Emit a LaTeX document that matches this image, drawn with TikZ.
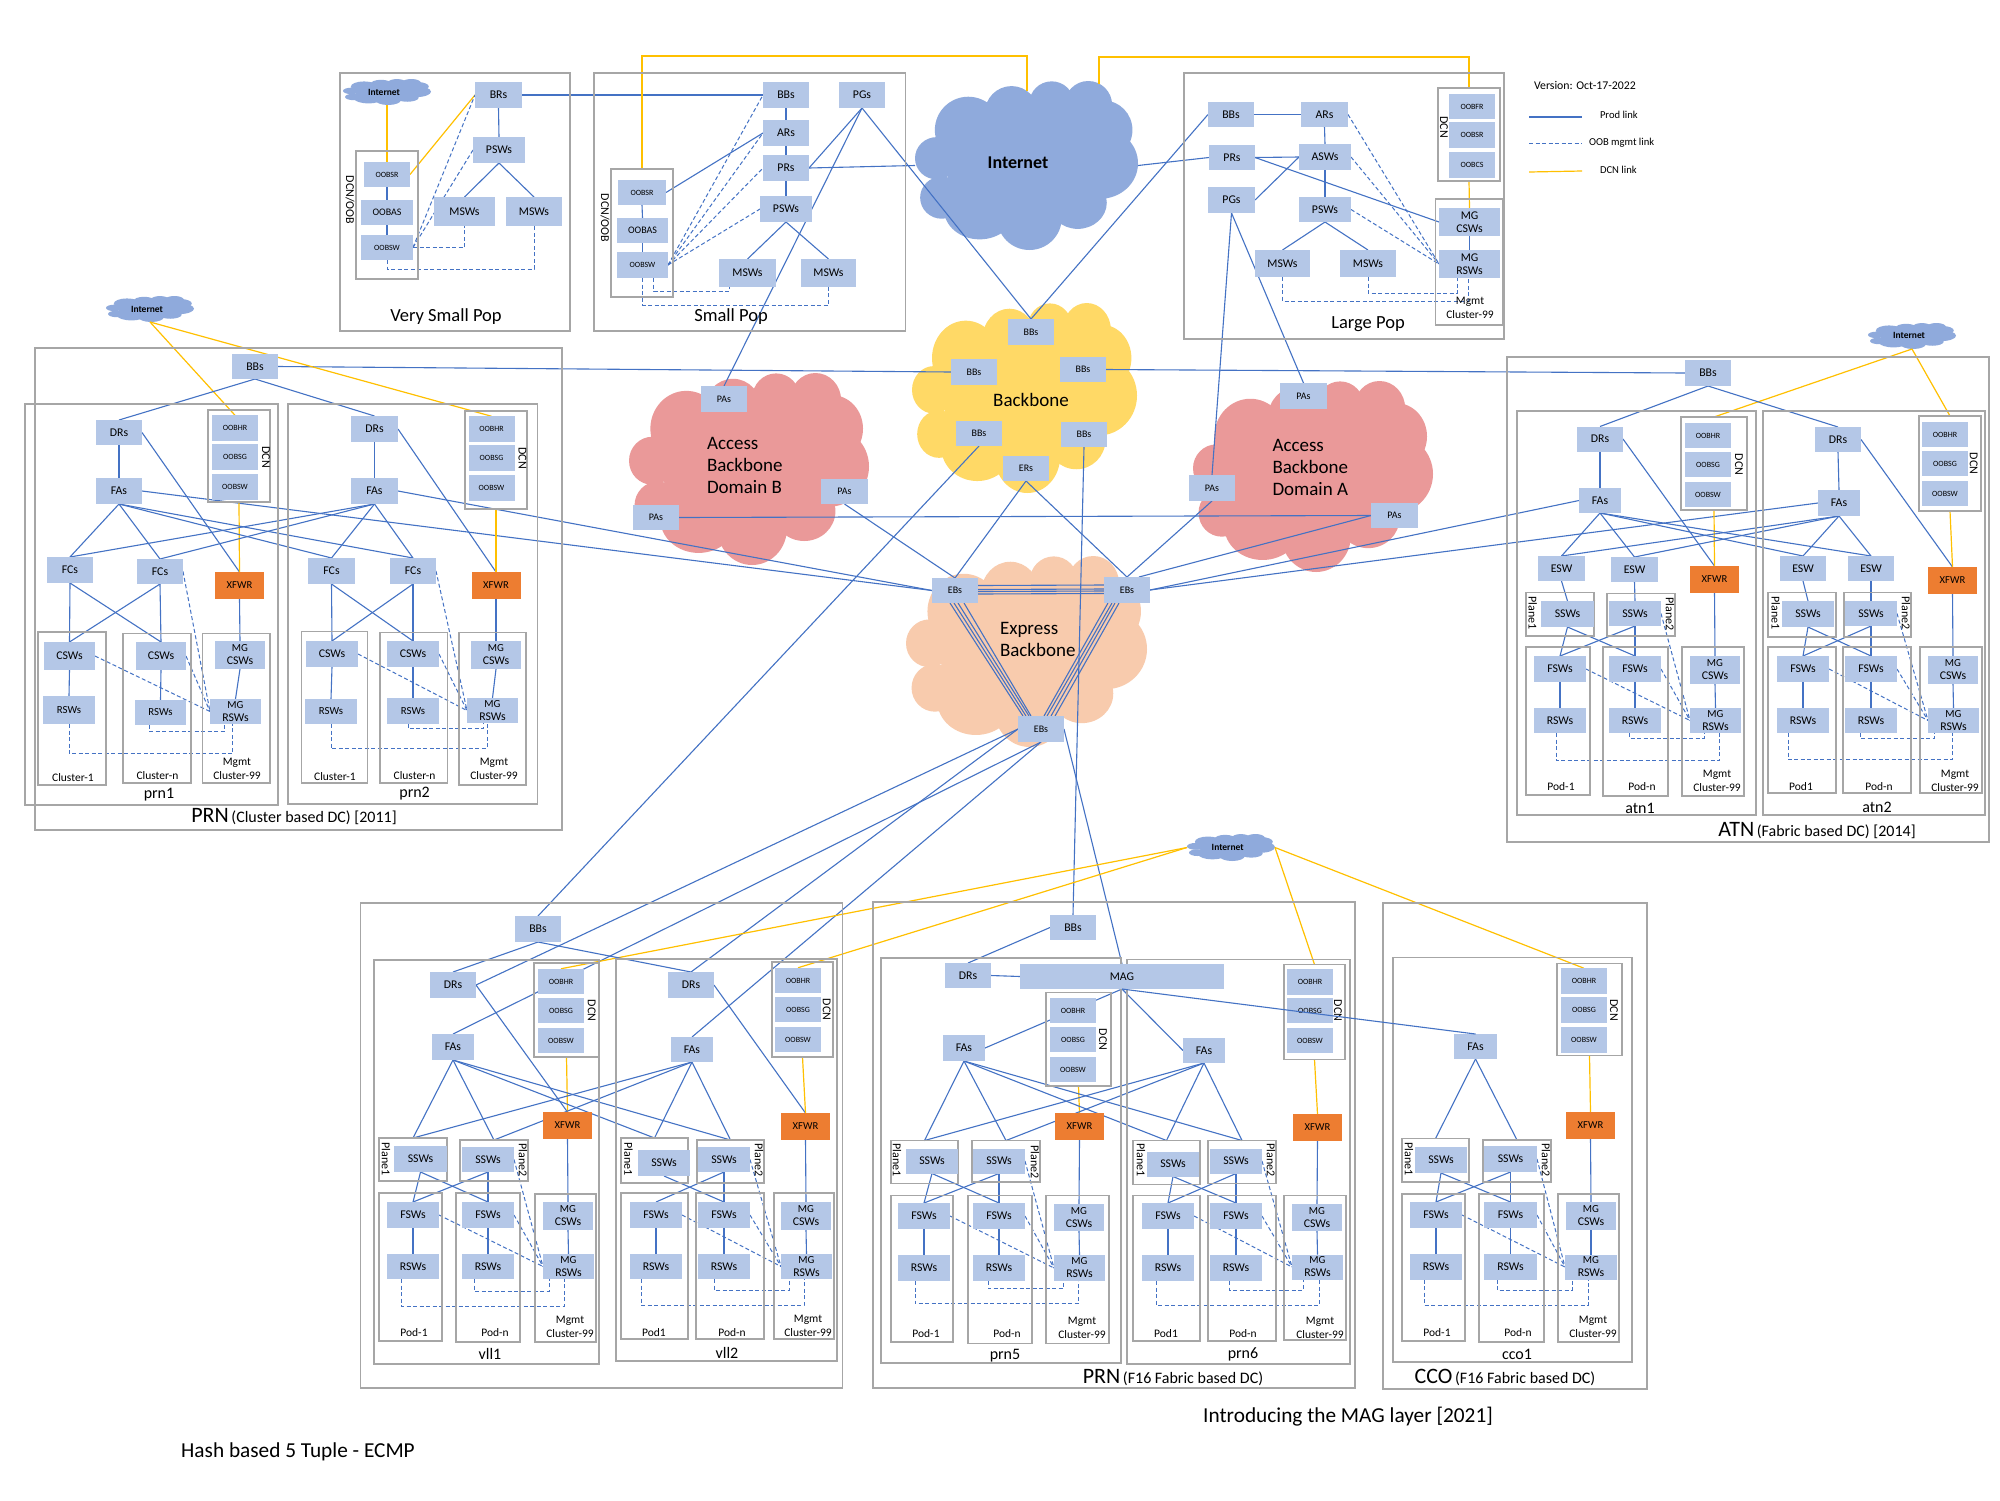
\documentclass[tikz,border=0pt]{standalone}
\usepackage{fontspec}
\setmainfont{Carlito}
\pgfdeclarelayer{under}
\pgfsetlayers{under,main}
\definecolor{bluefill}{HTML}{B4C7E7}
\definecolor{linkblue}{HTML}{4472C4}
\definecolor{dcnyellow}{HTML}{FFC000}
\definecolor{framegrey}{HTML}{A6A6A6}
\definecolor{xfwrorange}{HTML}{ED7D31}
\definecolor{inetblue}{HTML}{8FAADC}
\definecolor{bbyellow}{HTML}{FFD966}
\definecolor{abpink}{HTML}{EA9999}
\definecolor{ebpeach}{HTML}{F8CBAD}
\tikzset{
  box/.style={fill=bluefill,inner sep=0pt,outer sep=0pt,align=center,font=\fontsize{11.8}{13}\selectfont},
  oobbox/.style={box,font=\fontsize{8}{9}\selectfont},
  fwbox/.style={box,fill=xfwrorange,font=\fontsize{10.6}{12}\selectfont},
  frame/.style={draw=framegrey,line width=1.2pt,inner sep=0pt,outer sep=0pt},
  lbl/.style={inner sep=0pt,outer sep=0pt,align=center,font=\fontsize{11.5}{14}\selectfont},
  lblrot/.style={lbl,rotate=-90,font=\fontsize{12}{14}\selectfont},
  lblbig/.style={lbl,font=\fontsize{18.5}{22}\selectfont},
  lblmid/.style={lbl,font=\fontsize{16}{18}\selectfont},
  lblcloud/.style={inner sep=0pt,outer sep=0pt,align=left,anchor=west,font=\fontsize{19}{22}\selectfont},
  inetbig/.style={inner sep=0pt,outer sep=0pt,font=\fontsize{18}{20}\selectfont\bfseries},
  inetsmall/.style={inner sep=0pt,outer sep=0pt,font=\fontsize{9.5}{11}\selectfont\bfseries},
  anchorbox/.style={inner sep=0pt,outer sep=0pt},
  prod/.style={draw=linkblue,line width=1.1pt},
  oob/.style={draw=linkblue,line width=1pt,dash pattern=on 4pt off 2.5pt},
  dcn/.style={draw=dcnyellow,line width=1.2pt}
}
\newcounter{lblc}
\newcommand\bx[6]{\node[box,minimum width=#4pt,minimum height=#5pt] (#1) at (#2,#3) {#6};}
\newcommand\ob[6]{\node[oobbox,minimum width=#4pt,minimum height=#5pt] (#1) at (#2,#3) {#6};}
\newcommand\fw[3]{\node[fwbox,minimum width=49pt,minimum height=27pt] (#1) at (#2,#3) {XFWR};}
\newcommand\fr[5]{\node[frame,minimum width={#4pt-#2pt},minimum height={#5pt-#3pt}] (#1) at ({(#2+#4)/2},{(#3+#5)/2}) {};}
\newcommand\tx[4][lbl]{\stepcounter{lblc}\node[#1] (L\thelblc) at (#2,#3) {#4};}
\newcommand\vtx[3]{\stepcounter{lblc}\node[lblrot] (L\thelblc) at (#1,#2) {#3};}
\newcommand\dccap[4]{\stepcounter{lblc}\node[lbl] (L\thelblc) at (#1,#2) {{\fontsize{22}{24}\selectfont #3} {\fontsize{16}{24}\selectfont #4}};}
\newcommand\mgmtlb[2]{\tx{#1}{#2}{Mgmt\\Cluster-99}}
\newcommand\dcnset[6]{%
  \ob{#1o1}{#2}{#3}{46}{25.5}{OOBHR}\ob{#1o2}{#2}{#4}{46}{25.5}{OOBSG}\ob{#1o3}{#2}{#5}{46}{25.5}{OOBSW}%
  \vtx{#6}{#4}{DCN}}
\newcommand\pptcloud[5]{%
  \begin{scope}[shift={(#1,#2)},x=#3pt,y=-#4pt]
    \fill[#5] (.5,.5) ellipse (.36 and .36);
    \fill[#5] (.239,.29) ellipse (.15 and .197);
    \fill[#5] (.433,.19) ellipse (.12 and .16);
    \fill[#5] (.613,.132) ellipse (.10 and .13);
    \fill[#5] (.777,.142) ellipse (.107 and .142);
    \fill[#5] (.845,.29) ellipse (.13 and .175);
    \fill[#5] (.83,.487) ellipse (.17 and .21);
    \fill[#5] (.73,.72) ellipse (.13 and .155);
    \fill[#5] (.513,.81) ellipse (.145 and .19);
    \fill[#5] (.29,.76) ellipse (.16 and .177);
    \fill[#5] (.12,.69) ellipse (.097 and .125);
    \fill[#5] (.097,.457) ellipse (.097 and .125);
  \end{scope}}
\newcommand\dashlink[5]{\draw[oob] ([xshift=#3pt]#1.south) -- ++(0,#4) -| ([xshift=#5pt]#2.south);}
\newcommand\fablinks[1]{%
  \draw[dcn] (#1dcn.south) -- (#1x.north);
  \draw[prod] (#1x.south) -- (#1mc.north);
  \draw[prod] (#1mc.south) -- (#1mr.north);
  \draw[prod] (#1f1.south) -- (#1r1.north);
  \draw[prod] (#1f2.south) -- (#1r2.north);
  \draw[prod] (#1s1.south) -- (#1f2.north);
  \draw[prod] (#1s2.south) -- (#1f1.north);
  \draw[prod] (#1s2.south) -- (#1f2.north);
  \draw[oob] (#1s2.east) -- (#1mr.west);
  \draw[oob] (#1f1.east) -- (#1mr.west);
  \draw[oob] (#1f2.east) -- (#1mr.west);}
\newcommand\clusterlinks[1]{%
  \draw[prod] (#1dr.east) -- (#1x.north);
  \draw[prod] (#1dr.south) -- (#1fa.north);
  \draw[dcn] (#1dcn.south) -- (#1x.north);
  \draw[prod] (#1x.south) -- (#1mc.north);
  \draw[prod] (#1mc.south) -- (#1mr.north);
  \draw[prod] (#1fc1.south) -- (#1c1.north);
  \draw[prod] (#1fc1.south) -- (#1c2.north);
  \draw[prod] (#1fc2.south) -- (#1c1.north);
  \draw[prod] (#1fc2.south) -- (#1c2.north);
  \draw[prod] (#1c1.south) -- (#1r1.north);
  \draw[prod] (#1c2.south) -- (#1r2.north);
  \draw[oob] (#1c1.east) -- (#1mr.west);
  \draw[oob] (#1c2.east) -- (#1mr.west);
  \draw[oob] (#1fc2.east) -- (#1mr.west);}
\begin{document}
\begin{tikzpicture}[x=1pt,y=-1pt]
\useasboundingbox (0,0) rectangle (2000,1500);
\begin{pgfonlayer}{under}
\fill[white] (0,0) rectangle (2000,1500);
\pptcloud{912}{303}{225}{190}{bbyellow}
\pptcloud{629}{373}{240}{192}{abpink}
\pptcloud{1193}{381}{240}{191}{abpink}
\pptcloud{906}{556}{241}{191}{ebpeach}
\pptcloud{915}{81}{223}{169}{inetblue}
\pptcloud{343}{79}{88}{26}{inetblue}
\pptcloud{106}{296}{88}{26}{inetblue}
\pptcloud{1868}{323}{88}{26}{inetblue}
\pptcloud{1187}{834}{88}{27}{inetblue}
\end{pgfonlayer}
% Internet cloud anchors and labels
\node[anchorbox,minimum width=223pt,minimum height=169pt] (inetB) at (1026.5,165.5) {};
\node[anchorbox,minimum width=88pt,minimum height=26pt] (inetV) at (387,92) {};
\node[anchorbox,minimum width=88pt,minimum height=26pt] (inetP) at (150,309) {};
\node[anchorbox,minimum width=88pt,minimum height=26pt] (inetA) at (1912,336) {};
\node[anchorbox,minimum width=88pt,minimum height=27pt] (inetF) at (1231,847.5) {};
\tx[inetbig]{1018}{163}{Internet}
\tx[inetsmall]{384}{92}{Internet}
\tx[inetsmall]{147}{309}{Internet}
\tx[inetsmall]{1909}{335.5}{Internet}
\tx[inetsmall]{1227.7}{847.5}{Internet}
% ---------- frames ----------
\fr{vpop}{340}{73}{570}{331}
\fr{vdcn}{356}{151}{418}{279}
\fr{spop}{594}{73}{905.5}{331}
\fr{sdcn}{611}{169}{673}{297}
\fr{lpop}{1184}{73}{1504}{339}
\fr{ldcn}{1438}{88}{1500}{181}
\fr{lmg}{1435.5}{199}{1502.5}{325}
% PRN cluster
\fr{prnA}{35}{348}{562}{830}
\fr{pabox}{25}{404}{278}{805}
\fr{pbbox}{288}{404}{537.5}{804}
\fr{padcn}{208}{410}{270}{502}
\fr{pbdcn}{465}{411}{527}{509}
\fr{pacl1}{38}{632}{106}{785}
\fr{pacl2}{123}{633.5}{191}{783}
\fr{pacl3}{202.5}{633.5}{270}{783}
\fr{pbcl1}{301.5}{631.5}{367.5}{783}
\fr{pbcl2}{380}{632.5}{447.5}{783}
\fr{pbcl3}{459}{632.5}{526}{785}
% ATN
\fr{atnA}{1507}{357}{1989}{842}
\fr{aabox}{1517}{411}{1756}{815}
\fr{abbox}{1763}{411}{1985}{815}
\fr{aadcn}{1681}{417}{1747}{510}
\fr{abdcn}{1919}{416}{1981}{511}
\fr{aapl1}{1526}{592.5}{1594}{636}
\fr{aapl2}{1607}{593.5}{1675}{636}
\fr{abpl1}{1768}{592.5}{1836}{637}
\fr{abpl2}{1844}{592.5}{1911}{637}
\fr{aapd1}{1526}{647}{1590}{795}
\fr{aapd2}{1603}{647}{1668}{796}
\fr{aapd3}{1682}{647}{1744}{796}
\fr{abpd1}{1768}{647}{1836}{793}
\fr{abpd2}{1843}{647}{1911}{793}
\fr{abpd3}{1920}{647}{1982}{793}
% VLL
\fr{vllA}{360.7}{903}{842.3}{1388}
\fr{vabox}{374}{960}{599}{1364}
\fr{vbbox}{616}{959}{837}{1361}
\fr{vadcn}{534}{963}{599}{1057}
\fr{vbdcn}{772}{962}{833}{1057}
\fr{vapl1}{379}{1138}{447}{1181}
\fr{vapl2}{460}{1140}{528}{1181}
\fr{vbpl1}{621}{1138}{688}{1183}
\fr{vbpl2}{697}{1140}{764}{1183}
\fr{vapd1}{379}{1193}{442}{1341}
\fr{vapd2}{456}{1193}{520}{1342}
\fr{vapd3}{535}{1194}{596}{1342}
\fr{vbpd1}{621}{1193}{688}{1339}
\fr{vbpd2}{696}{1193}{764}{1339}
\fr{vbpd3}{774}{1193}{834}{1339}
% PRN F16
\fr{prnF}{873}{902}{1355}{1388}
\fr{fabox}{881}{958}{1121}{1363}
\fr{fbbox}{1127}{959.5}{1350}{1364}
\fr{fadcn}{1046}{992.5}{1111}{1086}
\fr{fbdcn}{1284}{964.5}{1345}{1059.5}
\fr{fapl1}{891}{1140.5}{958}{1183.5}
\fr{fapl2}{972}{1140.5}{1040}{1182}
\fr{fbpl1}{1133}{1140.5}{1200}{1184.5}
\fr{fbpl2}{1208}{1140.5}{1276}{1183.5}
\fr{fapd1}{891}{1195.5}{953}{1342}
\fr{fapd2}{968}{1195.5}{1032}{1343.5}
\fr{fapd3}{1046}{1195.5}{1109}{1343.5}
\fr{fbpd1}{1133}{1195.5}{1200}{1341}
\fr{fbpd2}{1208}{1195.5}{1276}{1341}
\fr{fbpd3}{1284}{1195.5}{1346}{1340}
% CCO
\fr{ccoA}{1383}{903}{1647}{1389}
\fr{cabox}{1393}{957.6}{1632}{1362}
\fr{cadcn}{1557}{963.5}{1622}{1055.5}
\fr{capl1}{1402}{1138.6}{1469}{1182}
\fr{capl2}{1483}{1140}{1551}{1182}
\fr{capd1}{1402}{1194}{1465}{1341}
\fr{capd2}{1479}{1194}{1544}{1342}
\fr{capd3}{1558}{1194}{1619}{1342}
% ---------- Very small pop ----------
\bx{vbr}{498.5}{95}{47}{26}{BRs}
\bx{vpsw}{499}{150}{52}{26}{PSWs}
\bx{vm1}{464.5}{211.5}{61}{29}{MSWs}
\bx{vm2}{534}{211.5}{56}{29}{MSWs}
\ob{voo1}{387}{174.5}{46}{25}{OOBSR}
\bx{voo2}{387}{212.5}{52}{25}{\fontsize{10}{12}\selectfont OOBAS}
\ob{voo3}{387}{247.5}{52}{25}{OOBSW}
\vtx{350}{200}{DCN/OOB}
\tx[lblbig]{446}{317}{Very Small Pop}
% ---------- Small pop ----------
\bx{sbb}{786}{95}{46}{26}{BBs}
\bx{spg}{862}{95}{46}{26}{PGs}
\bx{sar}{786}{133}{46}{26}{ARs}
\bx{spr}{786}{168}{46}{26}{PRs}
\bx{spsw}{786}{209}{52}{26}{PSWs}
\bx{sm1}{747.5}{273}{57}{28}{MSWs}
\bx{sm2}{828.5}{273}{55}{28}{MSWs}
\ob{soo1}{642}{192.5}{48}{25}{OOBSR}
\bx{soo2}{642.5}{230.5}{51}{25}{\fontsize{10}{12}\selectfont OOBAS}
\ob{soo3}{642.5}{265}{51}{26}{OOBSW}
\vtx{605}{218}{DCN/OOB}
\tx[lblbig]{731}{317}{Small Pop}
% ---------- Large pop ----------
\bx{lbb}{1231}{114.5}{46}{25}{BBs}
\bx{lar}{1324.5}{114.5}{47}{25}{ARs}
\bx{lpr}{1232}{157.5}{46}{25}{PRs}
\bx{lasw}{1325}{157}{52}{26}{ASWs}
\bx{lpg}{1231.5}{200}{47}{26}{PGs}
\bx{lpsw}{1325}{209.5}{52}{25}{PSWs}
\bx{lm1}{1282.5}{263.5}{55}{27}{MSWs}
\bx{lm2}{1368}{263.5}{56}{27}{MSWs}
\ob{loo1}{1472}{106.5}{46}{25}{OOBFR}
\ob{loo2}{1472}{135}{46}{26}{OOBSR}
\ob{loo3}{1472}{165}{46}{26}{OOBCS}
\vtx{1444}{127}{DCN}
\bx{lmc}{1469.5}{222}{61}{28}{MG\\CSWs}
\bx{lmr}{1469.5}{264}{61}{28}{MG\\RSWs}
\mgmtlb{1470}{308}
\tx[lblbig]{1368}{324}{Large Pop}
% ---------- Legend ----------
\tx[lbl,anchor=west]{1534}{85}{\fontsize{11.8}{14}\selectfont Version: Oct-17-2022}
\coordinate (lg1a) at (1529,117); \coordinate (lg1b) at (1582,117);
\coordinate (lg2a) at (1529,143); \coordinate (lg2b) at (1582,143);
\coordinate (lg3a) at (1529,172); \coordinate (lg3b) at (1582,171);
\tx[lbl,anchor=west]{1600}{115}{\fontsize{10.6}{12}\selectfont Prod link}
\tx[lbl,anchor=west]{1589}{143}{\fontsize{10.6}{12}\selectfont OOB mgmt link}
\tx[lbl,anchor=west]{1600}{170}{\fontsize{10.6}{12}\selectfont DCN link}
% ---------- Centre ----------
\bx{btop}{1031}{332}{46}{26}{\fontsize{10}{12}\selectfont BBs}
\bx{blf}{974}{372}{46}{26}{\fontsize{10}{12}\selectfont BBs}
\bx{brt}{1083}{369.5}{46}{25}{\fontsize{10}{12}\selectfont BBs}
\bx{bbl}{979}{433.5}{46}{25}{\fontsize{10}{12}\selectfont BBs}
\bx{bbr}{1084}{434.5}{46}{25}{\fontsize{10}{12}\selectfont BBs}
\bx{ers}{1026}{468.5}{46}{25}{\fontsize{10}{12}\selectfont ERs}
\bx{ebl}{955}{590.5}{46}{25}{\fontsize{10}{12}\selectfont EBs}
\bx{ebr}{1127}{590}{46}{26}{\fontsize{10}{12}\selectfont EBs}
\bx{ebb}{1041}{729}{46}{26}{\fontsize{10}{12}\selectfont EBs}
\bx{pbt}{724}{399}{46}{26}{\fontsize{10}{12}\selectfont PAs}
\bx{pbr}{844.5}{491.5}{47}{25}{\fontsize{10}{12}\selectfont PAs}
\bx{pbl}{656}{517.5}{46}{25}{\fontsize{10}{12}\selectfont PAs}
\bx{pat}{1303.5}{396}{47}{26}{\fontsize{10}{12}\selectfont PAs}
\bx{pal}{1212}{488}{46}{26}{\fontsize{10}{12}\selectfont PAs}
\bx{par}{1394.5}{515.5}{47}{25}{\fontsize{10}{12}\selectfont PAs}
\tx[lblcloud,anchor=center]{1031}{400}{Backbone}
\tx[lblcloud]{707}{465}{Access\\Backbone\\Domain B}
\tx[lblcloud]{1272.5}{467}{Access\\Backbone\\Domain A}
\tx[lblcloud]{1000}{639}{Express\\Backbone}
% ---------- PRN cluster ----------
\bx{pbb}{255}{366.5}{46}{25}{BBs}
\bx{padr}{119}{432.5}{46}{25}{DRs}
\bx{pafa}{119}{491}{46}{26}{FAs}
\dcnset{pa}{235}{428}{457}{487}{266}
\bx{pafc1}{70}{570}{46}{26}{FCs}
\bx{pafc2}{160}{571.5}{46}{25}{FCs}
\fw{pax}{239.5}{585.5}
\bx{pac1}{69.5}{656}{51}{28}{CSWs}
\bx{pac2}{161}{656}{50}{28}{CSWs}
\bx{pamc}{240}{655}{50}{28}{\fontsize{10.8}{13}\selectfont MG\\CSWs}
\bx{par1}{69}{710}{52}{28}{\fontsize{10.8}{13}\selectfont RSWs}
\bx{par2}{160.5}{712.5}{51}{25}{\fontsize{10.8}{13}\selectfont RSWs}
\bx{pamr}{235.5}{711.5}{51}{25}{\fontsize{10.8}{13}\selectfont MG\\RSWs}
\tx{73}{778}{Cluster-1}
\tx{157.5}{776}{Cluster-n}
\mgmtlb{237}{769}
\tx[lblmid]{159}{794.5}{prn1}
\bx{pbdr}{374.5}{429}{47}{26}{DRs}
\bx{pbfa}{374.5}{491}{47}{26}{FAs}
\dcnset{pb}{491.5}{429}{458}{488}{522.5}
\bx{pbfc1}{331.5}{571}{47}{26}{FCs}
\bx{pbfc2}{413}{571}{46}{26}{FCs}
\fw{pbx}{496}{585.5}
\bx{pbc1}{332}{654}{52}{26}{CSWs}
\bx{pbc2}{413}{654}{52}{26}{CSWs}
\bx{pbmc}{496}{655}{50}{28}{\fontsize{10.8}{13}\selectfont MG\\CSWs}
\bx{pbr1}{331}{711.5}{52}{25}{\fontsize{10.8}{13}\selectfont RSWs}
\bx{pbr2}{413}{711}{52}{26}{\fontsize{10.8}{13}\selectfont RSWs}
\bx{pbmr}{492.5}{710.5}{51}{25}{\fontsize{10.8}{13}\selectfont MG\\RSWs}
\tx{335}{777}{Cluster-1}
\tx{414.6}{776}{Cluster-n}
\mgmtlb{494}{769}
\tx[lblmid]{414.6}{793.5}{prn2}
\dccap{294}{817}{PRN}{(Cluster based DC) [2011]}
% ---------- ATN ----------
\bx{abb}{1708}{373}{46}{26}{BBs}
\bx{aadr}{1600}{439}{46}{25}{DRs}
\bx{aafa}{1600}{500.5}{42}{25}{FAs}
\dcnset{aa}{1708}{435.5}{464.5}{494.5}{1739}
\bx{aae1}{1561.5}{568.5}{47}{25}{ESW}
\bx{aae2}{1634.5}{569.5}{47}{25}{ESW}
\fw{aax}{1714.5}{579.5}
\bx{aas1}{1567.5}{614}{53}{26}{SSWs}
\bx{aas2}{1635}{613.5}{52}{25}{SSWs}
\vtx{1532.7}{613}{Plane1}
\vtx{1670}{614}{Plane2}
\bx{aaf1}{1560}{669}{52}{26}{FSWs}
\bx{aaf2}{1635}{669}{52}{26}{FSWs}
\bx{aamc}{1715}{670}{50}{28}{\fontsize{10.8}{13}\selectfont MG\\CSWs}
\bx{aar1}{1560}{720.5}{52}{25}{RSWs}
\bx{aar2}{1635}{720.5}{52}{25}{RSWs}
\bx{aamr}{1715.5}{720.5}{51}{25}{\fontsize{10.8}{13}\selectfont MG\\RSWs}
\tx{1561}{787}{Pod-1}
\tx{1642}{787}{Pod-n}
\mgmtlb{1717}{781}
\tx[lblmid]{1640}{808}{atn1}
\bx{abdr}{1838}{439.5}{46}{25}{DRs}
\bx{abfa}{1839}{503}{42}{26}{FAs}
\dcnset{ab}{1945}{434.5}{463.5}{493.5}{1973.7}
\bx{abe1}{1803}{568.5}{46}{25}{ESW}
\bx{abe2}{1871}{568.5}{46}{25}{ESW}
\fw{abx}{1952.5}{580.5}
\bx{abs1}{1808}{614}{52}{26}{SSWs}
\bx{abs2}{1871}{613.5}{52}{25}{SSWs}
\vtx{1775.7}{613}{Plane1}
\vtx{1906}{613}{Plane2}
\bx{abf1}{1803}{669}{52}{26}{FSWs}
\bx{abf2}{1871}{669}{52}{26}{FSWs}
\bx{abmc}{1953}{670}{50}{28}{\fontsize{10.8}{13}\selectfont MG\\CSWs}
\bx{abr1}{1803}{720.5}{52}{25}{RSWs}
\bx{abr2}{1871}{720.5}{52}{25}{RSWs}
\bx{abmr}{1953.5}{720.5}{51}{25}{\fontsize{10.8}{13}\selectfont MG\\RSWs}
\tx{1801}{787}{Pod1}
\tx{1879}{787}{Pod-n}
\mgmtlb{1955}{781}
\tx[lblmid]{1877}{807}{atn2}
\dccap{1817}{831}{ATN}{(Fabric based DC) [2014]}
% ---------- VLL ----------
\bx{vbb}{538}{929}{46}{26}{BBs}
\bx{vadr}{453}{985}{46}{26}{DRs}
\bx{vafa}{453}{1047}{42}{26}{FAs}
\dcnset{va}{561}{981.5}{1010.5}{1040.5}{591.7}
\fw{vax}{567.5}{1125.5}
\bx{vas1}{420.5}{1159}{53}{26}{SSWs}
\bx{vas2}{488}{1159.5}{52}{25}{SSWs}
\vtx{386}{1159}{Plane1}
\vtx{523}{1160}{Plane2}
\bx{vaf1}{413}{1215}{52}{26}{FSWs}
\bx{vaf2}{488}{1215}{52}{26}{FSWs}
\bx{vamc}{568}{1216}{50}{28}{\fontsize{10.8}{13}\selectfont MG\\CSWs}
\bx{var1}{413}{1266.5}{52}{25}{RSWs}
\bx{var2}{488}{1266.5}{52}{25}{RSWs}
\bx{vamr}{568.5}{1266.5}{51}{25}{\fontsize{10.8}{13}\selectfont MG\\RSWs}
\tx{414}{1332.7}{Pod-1}
\tx{495}{1332.7}{Pod-n}
\mgmtlb{570}{1326.5}
\tx[lblmid]{490}{1354}{vll1}
\bx{vbdr}{691}{985}{46}{26}{DRs}
\bx{vbfa}{692}{1049.5}{42}{25}{FAs}
\dcnset{vb}{798}{980.5}{1009.5}{1039.5}{826.7}
\fw{vbx}{805.5}{1126.5}
\bx{vbs1}{664}{1163}{52}{26}{SSWs}
\bx{vbs2}{724}{1159.5}{52}{25}{SSWs}
\vtx{628.5}{1159}{Plane1}
\vtx{759}{1160}{Plane2}
\bx{vbf1}{656}{1215}{52}{26}{FSWs}
\bx{vbf2}{724}{1215}{52}{26}{FSWs}
\bx{vbmc}{806}{1216}{50}{28}{\fontsize{10.8}{13}\selectfont MG\\CSWs}
\bx{vbr1}{656}{1266.5}{52}{25}{RSWs}
\bx{vbr2}{724}{1266.5}{52}{25}{RSWs}
\bx{vbmr}{806.5}{1266.5}{51}{25}{\fontsize{10.8}{13}\selectfont MG\\RSWs}
\tx{654}{1332.7}{Pod1}
\tx{732}{1332.7}{Pod-n}
\mgmtlb{808}{1326}
\tx[lblmid]{727}{1353}{vll2}
% ---------- PRN F16 ----------
\bx{fbb}{1073}{927.5}{46}{25}{BBs}
\bx{fadr}{968}{975.5}{46}{25}{DRs}
\bx{mag}{1122}{976.5}{204}{25}{MAG}
\dcnset{fa}{1073}{1010.5}{1039.5}{1069.5}{1103}
\bx{fafa}{964}{1048}{42}{26}{FAs}
\fw{fax}{1079.5}{1126.5}
\bx{fas1}{932}{1161}{52}{25}{SSWs}
\bx{fas2}{999}{1161}{52}{25}{SSWs}
\vtx{897}{1160}{Plane1}
\vtx{1035}{1162}{Plane2}
\bx{faf1}{924}{1216}{52}{26}{FSWs}
\bx{faf2}{999}{1216}{52}{26}{FSWs}
\bx{famc}{1079}{1217.5}{50}{27}{\fontsize{10.8}{13}\selectfont MG\\CSWs}
\bx{far1}{924}{1268}{52}{26}{RSWs}
\bx{far2}{999}{1268}{52}{26}{RSWs}
\bx{famr}{1079.5}{1268}{51}{26}{\fontsize{10.8}{13}\selectfont MG\\RSWs}
\tx{926}{1334}{Pod-1}
\tx{1007}{1334}{Pod-n}
\mgmtlb{1082}{1328}
\tx[lblmid]{1005}{1356}{prn5}
\bx{fbfa}{1204}{1050.5}{42}{25}{FAs}
\dcnset{fb}{1310}{982}{1010.5}{1040.5}{1338}
\fw{fbx}{1317.5}{1127.5}
\bx{fbs1}{1173}{1164}{52}{25}{SSWs}
\bx{fbs2}{1236}{1161}{52}{25}{SSWs}
\vtx{1141}{1160}{Plane1}
\vtx{1271}{1160}{Plane2}
\bx{fbf1}{1168}{1216}{52}{26}{FSWs}
\bx{fbf2}{1236}{1216}{52}{26}{FSWs}
\bx{fbmc}{1317}{1217.5}{50}{27}{\fontsize{10.8}{13}\selectfont MG\\CSWs}
\bx{fbr1}{1168}{1268}{52}{26}{RSWs}
\bx{fbr2}{1236}{1268}{52}{26}{RSWs}
\bx{fbmr}{1317.5}{1267}{51}{25}{\fontsize{10.8}{13}\selectfont MG\\RSWs}
\tx{1166}{1334}{Pod1}
\tx{1243}{1334}{Pod-n}
\mgmtlb{1320}{1328}
\tx[lblmid]{1243}{1354}{prn6}
\dccap{1173}{1378}{PRN}{(F16 Fabric based DC)}
% ---------- CCO ----------
\bx{cafa}{1475.5}{1046.5}{43}{25}{FAs}
\dcnset{ca}{1584}{981}{1010}{1040}{1614}
\fw{cax}{1590.5}{1125.5}
\bx{cas1}{1441}{1160}{52}{26}{SSWs}
\bx{cas2}{1510.5}{1159}{53}{26}{SSWs}
\vtx{1409}{1159}{Plane1}
\vtx{1546}{1160}{Plane2}
\bx{caf1}{1436}{1215}{52}{26}{FSWs}
\bx{caf2}{1510.5}{1215}{53}{26}{FSWs}
\bx{camc}{1591}{1216}{50}{28}{\fontsize{10.8}{13}\selectfont MG\\CSWs}
\bx{car1}{1436}{1266.5}{52}{26}{RSWs}
\bx{car2}{1510.5}{1266.5}{53}{26}{RSWs}
\bx{camr}{1591}{1267}{52}{25}{\fontsize{10.8}{13}\selectfont MG\\RSWs}
\tx{1437}{1333}{Pod-1}
\tx{1518}{1333}{Pod-n}
\mgmtlb{1593}{1327}
\tx[lblmid]{1517}{1354.5}{cco1}
\dccap{1505}{1377}{CCO}{(F16 Fabric based DC)}
\tx[lblbig]{1348}{1417}{\fontsize{21.3}{24}\selectfont Introducing the MAG layer [2021]}
\tx[lblbig]{298}{1452}{\fontsize{21.3}{24}\selectfont Hash based 5 Tuple - ECMP}
% ---------- Links on top ----------
\draw[prod] (mag.south) -- (cafa.north);
% ---------- Links below boxes ----------
\begin{pgfonlayer}{under}
\draw[prod] (lg1a) -- (lg1b);
\draw[oob] (lg2a) -- (lg2b);
\draw[dcn] (lg3a) -- (lg3b);
% very small pop
\draw[dcn] (inetV.south) -- (voo1.north);
\draw[dcn] (voo1.east) -- (vbr.west);
\draw[prod] (voo1.south) -- (voo2.north);
\draw[prod] (voo2.south) -- (voo3.north);
\draw[prod] (vbr.south) -- (vpsw.north);
\draw[prod] (vpsw.south) -- (vm1.north);
\draw[prod] (vpsw.south) -- (vm2.north);
\draw[prod] (vbr.east) -- (sbb.west);
\draw[oob] (voo3.east) -- (vbr.west);
\draw[oob] (voo3.east) -- (vpsw.west);
\draw[oob] (voo3.east) -| (vm1.south);
\dashlink{voo3}{vm2}{0}{9}{0}
% small pop
\coordinate (ytop) at (1027,56);
\coordinate (ycloudL) at (1027,91);
\draw[dcn] (sdcn.north) |- (ytop) -- (ycloudL);
\draw[prod] (soo1.east) -- (sar.west);
\draw[prod] (soo1.south) -- (soo2.north);
\draw[prod] (soo2.south) -- (soo3.north);
\draw[prod] (sbb.south) -- (sar.north);
\draw[prod] (sar.south) -- (spr.north);
\draw[prod] (spr.south) -- (spsw.north);
\draw[prod] (spsw.south) -- (sm1.north);
\draw[prod] (spsw.south) -- (sm2.north);
\draw[prod] (spg.south) -- (spr.east);
\draw[prod] (spg.south) -- (btop.north);
\draw[prod] (spg.south) -- (pbt.north);
\draw[prod] (spr.east) -- (inetB.west);
\draw[oob] (soo3.east) -- (sbb.west);
\draw[oob] (soo3.east) -- (sar.west);
\draw[oob] (soo3.east) -- (spr.west);
\draw[oob] (soo3.east) -- (spsw.west);
\dashlink{soo3}{sm1}{11}{13}{-18}
\dashlink{soo3}{sm2}{0}{27}{0}
% large pop
\coordinate (ycloudR) at (1099,84);
\coordinate (ytopr) at (1469,57);
\draw[dcn] (ycloudR) |- (ytopr) -- (ldcn.north);
\draw[dcn] (ldcn.south) -- (lmc.north);
\draw[prod] (lbb.east) -- (lar.west);
\draw[prod] (lar.south) -- (lasw.north);
\draw[prod] (lasw.south) -- (lpsw.north);
\draw[prod] (lpsw.south) -- (lm1.north);
\draw[prod] (lpsw.south) -- (lm2.north);
\draw[prod] (lpr.east) -- (lasw.west);
\draw[prod] (lpr.east) -- (lmc.west);
\draw[prod] (lpg.east) -- (lasw.west);
\draw[prod] (lmc.south) -- (lmr.north);
\draw[prod] (lbb.west) -- (btop.north);
\draw[prod] (lpr.west) -- (inetB.east);
\draw[prod] (lpg.south) -- (pat.north);
\draw[prod] (lpg.south) -- (pal.north);
\draw[oob] (lar.east) -- (lmr.west);
\draw[oob] (lasw.east) -- (lmr.west);
\draw[oob] (lpsw.east) -- (lmr.west);
\dashlink{lm1}{lmr}{0}{24}{-1.5}
\dashlink{lm2}{lmr}{0}{16}{-12.5}
% centre
\draw[prod] (blf.west) -- (pbb.east);
\draw[prod] (brt.east) -- (abb.west);
\draw[prod] (bbl.south) -- (vbb.north);
\draw[prod] (bbr.south) -- (fbb.north);
\draw[prod] (ers.south) -- (ebl.north);
\draw[prod] (ers.south) -- (ebr.north);
\draw[prod] (pbr.south) -- (ebl.north);
\draw[prod] (pbl.east) -- (par.west);
\draw[prod] (pal.south) -- (ebr.north);
\draw[prod] (par.west) -- ([xshift=12pt]ebr.north);
\foreach \s in {5,1,-1,-3.5}{\draw[prod] ([yshift=\s pt]ebl.east) -- ([yshift=\s pt]ebr.west);}
\draw[prod] ([xshift=-5pt]ebl.south) -- ([xshift=-18pt]ebb.north);
\draw[prod] ([xshift=-1pt]ebl.south) -- ([xshift=-15pt]ebb.north);
\draw[prod] ([xshift=3pt]ebl.south) -- ([xshift=-12pt]ebb.north);
\draw[prod] ([xshift=9pt]ebl.south) -- ([xshift=-10pt]ebb.north);
\draw[prod] ([xshift=-19pt]ebr.south) -- ([xshift=3pt]ebb.north);
\draw[prod] ([xshift=-15pt]ebr.south) -- ([xshift=6pt]ebb.north);
\draw[prod] ([xshift=-12pt]ebr.south) -- ([xshift=10pt]ebb.north);
\draw[prod] ([xshift=-8pt]ebr.south) -- ([xshift=14pt]ebb.north);
\draw[prod] (ebl.west) -- (pafa.east);
\draw[prod] (ebl.west) -- (pbfa.east);
\draw[prod] (ebr.east) -- (aafa.west);
\draw[prod] (ebr.east) -- (abfa.west);
\draw[prod] (ebb.west) -- (vadr.east);
\draw[prod] (ebb.west) -- (vbdr.north);
\draw[prod] (ebb.south) -- (vafa.north);
\draw[prod] (ebb.south) -- (vbfa.north);
\draw[prod] (ebb.east) -- (mag.north);
% PRN cluster
\draw[dcn] (inetP.south) -- (pao1.north);
\draw[dcn] (inetP.south) -- (pbo1.north);
\draw[prod] (pbb.south) -- (padr.north);
\draw[prod] (pbb.south) -- (pbdr.north);
\clusterlinks{pa}
\clusterlinks{pb}
\foreach \t in {pafc1,pafc2,pbfc1,pbfc2}{
  \draw[prod] (pafa.south) -- (\t.north);
  \draw[prod] (pbfa.south) -- (\t.north);}
\dashlink{par2}{pamr}{-11.5}{6.4}{-11}
\dashlink{par1}{pamr}{0}{29.5}{-3}
\dashlink{pbr2}{pbmr}{-5}{4.6}{-9}
\dashlink{pbr1}{pbmr}{0}{24.6}{-5.5}
% ATN
\draw[dcn] (inetA.south) -- (aadcn.north);
\draw[dcn] (inetA.south) -- (abdcn.north);
\draw[prod] (abb.south) -- (aadr.north);
\draw[prod] (abb.south) -- (abdr.north);
\foreach \p in {aa,ab}{
  \draw[prod] (\p dr.south) -- (\p fa.north);
  \draw[prod] (\p dr.east) -- (\p x.north);
  \draw[prod] (\p e1.south) -- (\p s1.north);
  \draw[prod] (\p e2.south) -- (\p s2.north);
  \draw[prod] (\p s1.south) -- (\p f1.north);
  \fablinks{\p}}
\foreach \t in {aae1,aae2,abe1,abe2}{
  \draw[prod] (aafa.south) -- (\t.north);
  \draw[prod] (abfa.south) -- (\t.north);}
\dashlink{aar2}{aamr}{-6}{5}{-11.5}
\dashlink{aar1}{aamr}{-4}{27.5}{3.5}
\dashlink{abr2}{abmr}{-11}{5.5}{-19.5}
\dashlink{abr1}{abmr}{-15}{26.5}{-1.5}
% VLL
\draw[dcn] (inetF.west) -- (vao1.north);
\draw[dcn] (inetF.west) -- (vbo1.north);
\draw[prod] (vbb.south) -- (vadr.north);
\draw[prod] (vbb.south) -- (vbdr.north);
\draw[prod] (vadr.east) -- (vax.north);
\draw[prod] (vbdr.east) -- (vbx.north);
\draw[prod] (vas1.south) -- (vaf1.north);
\fablinks{va}
\fablinks{vb}
\foreach \t in {vapl1,vapl2,vbpl1,vbpl2}{
  \draw[prod] (vafa.south) -- (\t.north);
  \draw[prod] (vbfa.south) -- (\t.north);}
\dashlink{var2}{vamr}{-14}{12}{-19.5}
\dashlink{var1}{vamr}{-12}{27}{-4.5}
\dashlink{vbr2}{vbmr}{-10}{11}{-17.5}
\dashlink{vbr1}{vbmr}{-15}{26}{-2.5}
% PRN F16
\draw[dcn] (inetF.east) -- (fbdcn.north);
\draw[prod] (fbb.west) -- (fadr.north);
\draw[prod] (fadr.east) -- (mag.west);
\draw[prod] (mag.south) -- (fafa.east);
\draw[prod] (mag.south) -- (fbfa.west);
\draw[prod] (fas1.south) -- (faf1.north);
\draw[prod] (fbs1.south) -- (fbf1.north);
\fablinks{fa}
\fablinks{fb}
\foreach \t in {fapl1,fapl2,fbpl1,fbpl2}{
  \draw[prod] (fafa.south) -- (\t.north);
  \draw[prod] (fbfa.south) -- (\t.north);}
\dashlink{far2}{famr}{-11}{7.5}{-16.5}
\dashlink{far1}{famr}{-9}{22.5}{-1.5}
\dashlink{fbr2}{fbmr}{-7}{9}{-14.5}
\dashlink{fbr1}{fbmr}{-12}{24}{1.5}
% CCO
\draw[dcn] (inetF.east) -- (cao1.north);
\draw[prod] (cafa.south) -- (capl1.north);
\draw[prod] (cafa.south) -- (capl2.north);
\draw[prod] (cas1.south) -- (caf1.north);
\fablinks{ca}
\dashlink{car2}{camr}{-13.5}{10.5}{-19}
\dashlink{car1}{camr}{-12}{25.5}{-3}
\end{pgfonlayer}
\end{tikzpicture}
\end{document}
